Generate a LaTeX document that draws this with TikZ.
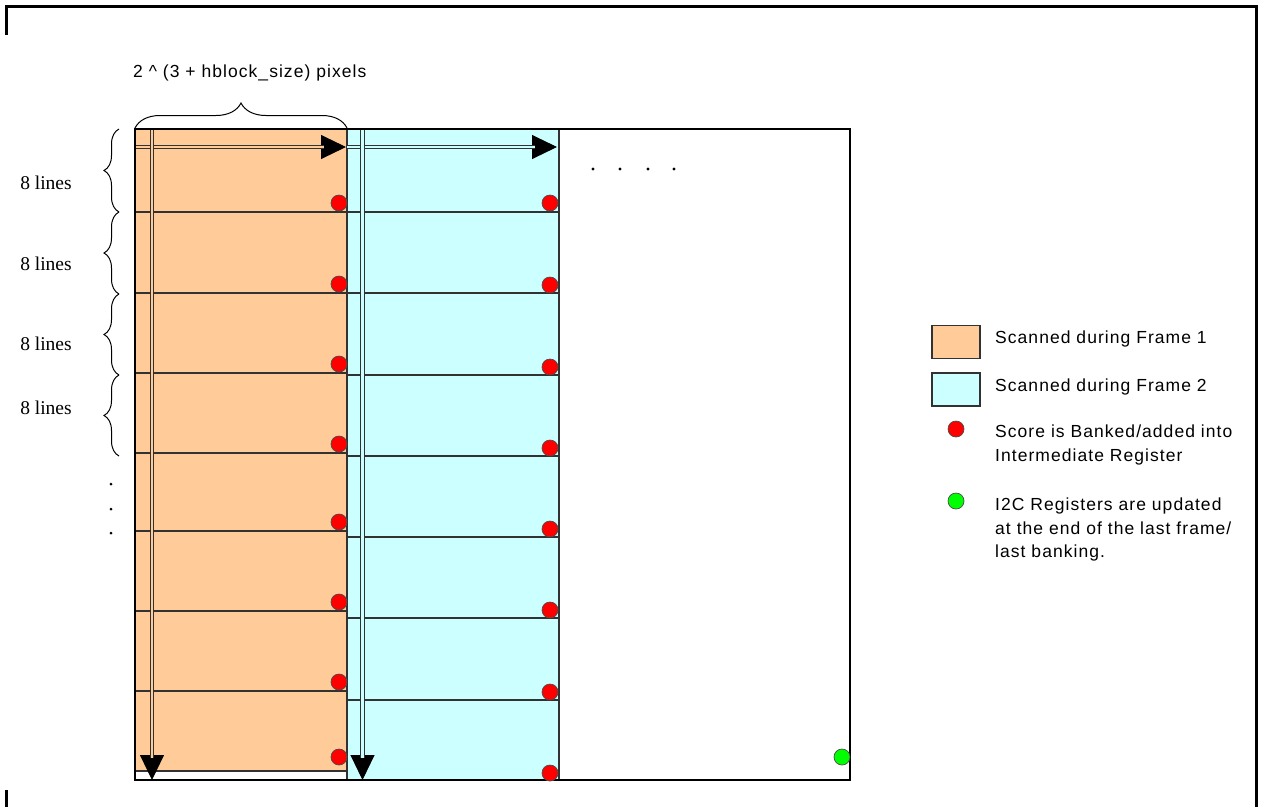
\documentclass[tikz,border=0pt]{standalone}
\usepackage{fontspec}
\setmainfont{Liberation Serif}
\newfontfamily\labelfont{Liberation Sans}[LetterSpace=6]
\usepackage{xcolor}
\usepackage{tikz}
\usetikzlibrary{positioning,decorations.pathreplacing,arrows.meta}

\definecolor{frameone}{RGB}{255,204,153}
\definecolor{frametwo}{RGB}{204,255,255}
\definecolor{gridgray}{RGB}{50,50,50}

\begin{document}
\begin{tikzpicture}[x=1pt,y=-1pt,
  gridline/.style={draw=gridgray,line width=1.3pt},
  rimline/.style={draw=black,line width=3pt},
  bankdot/.style={circle,draw=black!70,line width=0.7pt,fill=red,inner sep=0pt,minimum size=16pt},
  donedot/.style={bankdot,fill=green},
  scanline/.style={draw=gridgray,line width=1.1pt,double distance=2.4pt,double=#1},
  scantip/.style={draw=black,line width=1pt,-{Triangle[length=25pt,width=24pt]}},
  curly/.style={decorate,decoration={brace,amplitude=#1},line width=1pt},
  linelabel/.style={font=\fontsize{19.5}{22}\selectfont,anchor=base,inner sep=0pt},
  sanstext/.style={font=\labelfont\fontsize{17.5}{23.5}\selectfont,inner sep=0pt},
  legbox/.style={draw=gridgray,line width=1.2pt,minimum width=48pt,minimum height=33pt,inner sep=0pt}]
\useasboundingbox (0,0) rectangle (1262,807);
% outer frame
\draw[rimline] (6,35) -- (6,6) -- (1256,6) -- (1256,807);
\draw[rimline] (6,790) -- (6,807);

% columns scanned in the two frames
\fill[frameone] (135,129) rectangle (347,771);
\fill[frametwo] (347,129) rectangle (559,780);
\foreach \y in {212,293,373,453,531,611,691,771}
  \draw[gridline] (135,\y) -- (347,\y);
\foreach \y in {212,293,375,456,537,618,700}
  \draw[gridline] (347,\y) -- (559,\y);
\draw[gridline] (347,129) -- (347,780);
\draw[gridline] (559,129) -- (559,780);

% scan directions
\coordinate (onestart) at (135,147);
\coordinate (oneend) at (346,147);
\coordinate (twostart) at (347,147);
\coordinate (twoend) at (557,147);
\coordinate (onetop) at (152,129);
\coordinate (onebot) at (152,780);
\coordinate (twotop) at (362.5,129);
\coordinate (twobot) at (362.5,780);
\draw[scantip] (onestart) -- (oneend);
\draw[scanline=frameone,shorten >=22pt] (onestart) -- (oneend);
\draw[scantip] (twostart) -- (twoend);
\draw[scanline=frametwo,shorten >=22pt] (twostart) -- (twoend);
\draw[scantip] (onetop) -- (onebot);
\draw[scanline=frameone,shorten >=22pt] (onetop) -- (onebot);
\draw[scantip] (twotop) -- (twobot);
\draw[scanline=frametwo,shorten >=22pt] (twotop) -- (twobot);

\draw[rimline,line width=2.6pt] (135,129) rectangle (850,780);

% banking points
\foreach \y [count=\i] in {203,284,364,444,522,602,682,757}
  \node[bankdot] (oned\i) at (339,\y) {};
\foreach \y [count=\i] in {203,285,367,448,529,610,692,773}
  \node[bankdot] (twod\i) at (550,\y) {};
\node[donedot] (lastbank) at (842,757) {};

\foreach \x in {593,620,648,674}
  \fill (\x,169) circle (1.7);
\foreach \y in {484,509,533}
  \fill (111,\y) circle (1.5);

% braces and sizes
\draw[curly=25pt] (135,128) -- (347,128);
\node[sanstext,anchor=base west] (widthlbl) at (133,77) {2 \textasciicircum{} (3 + hblock\_size) pixels};
\foreach \a/\b in {129/212,212/294,294/375,375/456}
  \draw[curly=15pt] (119,\b) -- (119,\a);
\foreach \y [count=\i] in {189,270,350,414}
  \node[linelabel] (eight\i) at (46,\y) {8 lines};

% legend
\node[legbox,fill=frameone] (keyone) at (956,342) {};
\node[legbox,fill=frametwo] (keytwo) at (956,389.5) {};
\node[bankdot] (keybank) at (956,429) {};
\node[donedot] (keydone) at (956,501) {};
\node[sanstext,anchor=base west] (txtone) at (995,343) {Scanned during Frame 1};
\node[sanstext,anchor=base west] (txttwo) at (995,391) {Scanned during Frame 2};
\node[sanstext,anchor=north west,align=left] (txtbank) at (995,425)
  {Score is Banked/added into\\Intermediate Register};
\node[sanstext,anchor=north west,align=left] (txtdone) at (995,498)
  {I2C Registers are updated\\at the end of the last frame/\\last banking.};
\end{tikzpicture}
\end{document}
